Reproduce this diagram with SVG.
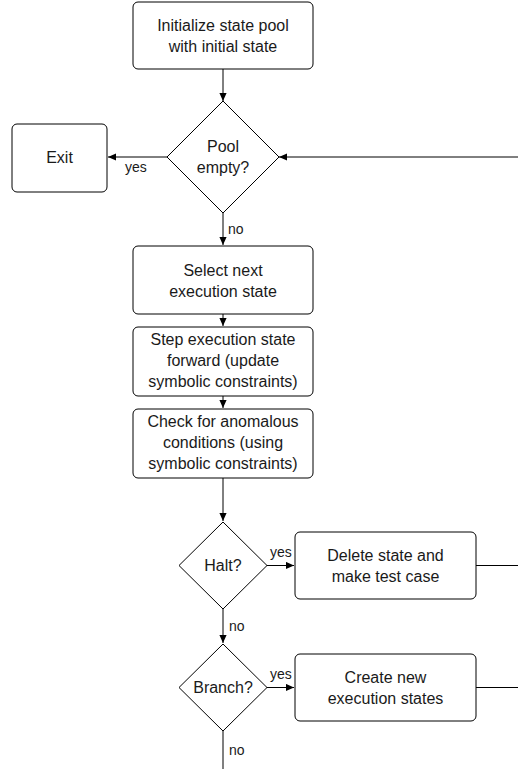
<svg xmlns="http://www.w3.org/2000/svg" width="518" height="769" viewBox="0 0 518 769">
  <style>
    .box { fill: #fff; stroke: #000; stroke-width: 1; }
    .lbl { font-family: "Liberation Sans", Arial, sans-serif; font-size: 16px; fill: #1a1a1a; text-anchor: middle; }
    .edge-lbl { font-family: "Liberation Sans", Arial, sans-serif; font-size: 14px; fill: #1a1a1a; }
    .wire { fill: none; stroke: #000; stroke-width: 1; }
  </style>
  <defs>
    <marker id="arrow" viewBox="0 0 10 10" refX="10" refY="5" markerWidth="8" markerHeight="8" markerUnits="userSpaceOnUse" orient="auto">
      <path d="M0,0.5 L10,5 L0,9.5 Z" fill="#000"/>
    </marker>
  </defs>
  <rect width="518" height="769" fill="#fff"/>

  <g id="connectors">
    <path class="wire" d="M223,69 L223,101" marker-end="url(#arrow)"/>
    <path class="wire" d="M167,157 L108,157" marker-end="url(#arrow)"/>
    <path class="wire" d="M518,157 L279,157" marker-end="url(#arrow)"/>
    <path class="wire" d="M223,213 L223,245" marker-end="url(#arrow)"/>
    <path class="wire" d="M223,314 L223,326" marker-end="url(#arrow)"/>
    <path class="wire" d="M223,396 L223,408" marker-end="url(#arrow)"/>
    <path class="wire" d="M223,478 L223,521" marker-end="url(#arrow)"/>
    <path class="wire" d="M267,565.5 L294,565.5" marker-end="url(#arrow)"/>
    <path class="wire" d="M476,565.5 L518,565.5"/>
    <path class="wire" d="M223,609 L223,643" marker-end="url(#arrow)"/>
    <path class="wire" d="M267,687.5 L294,687.5" marker-end="url(#arrow)"/>
    <path class="wire" d="M476,687.5 L518,687.5"/>
    <path class="wire" d="M223,731 L223,769"/>
    <text class="edge-lbl" x="125" y="172">yes</text>
    <text class="edge-lbl" x="228" y="234">no</text>
    <text class="edge-lbl" x="270" y="557">yes</text>
    <text class="edge-lbl" x="229" y="631">no</text>
    <text class="edge-lbl" x="270" y="679">yes</text>
    <text class="edge-lbl" x="229" y="755">no</text>
  </g>

  <g id="init">
    <rect class="box" x="133" y="2" width="180" height="67" rx="5"/>
    <text class="lbl" x="223" y="31">Initialize state pool</text>
    <text class="lbl" x="223" y="52">with initial state</text>
  </g>

  <g id="pool-empty">
    <polygon class="box" points="223,101 279,157 223,213 167,157"/>
    <text class="lbl" x="223" y="152">Pool</text>
    <text class="lbl" x="223" y="173">empty?</text>
  </g>

  <g id="exit">
    <rect class="box" x="12" y="124" width="95" height="68" rx="5"/>
    <text class="lbl" x="59.5" y="163">Exit</text>
  </g>

  <g id="select">
    <rect class="box" x="133" y="246" width="180" height="68" rx="5"/>
    <text class="lbl" x="223" y="276">Select next</text>
    <text class="lbl" x="223" y="297">execution state</text>
  </g>

  <g id="step">
    <rect class="box" x="133" y="327" width="180" height="69" rx="5"/>
    <text class="lbl" x="223" y="345">Step execution state</text>
    <text class="lbl" x="223" y="366">forward (update</text>
    <text class="lbl" x="223" y="387">symbolic constraints)</text>
  </g>

  <g id="check">
    <rect class="box" x="133" y="409" width="180" height="69" rx="5"/>
    <text class="lbl" x="223" y="427">Check for anomalous</text>
    <text class="lbl" x="223" y="448">conditions (using</text>
    <text class="lbl" x="223" y="469">symbolic constraints)</text>
  </g>

  <g id="halt">
    <polygon class="box" points="223,522 267,565.5 223,609 179,565.5"/>
    <text class="lbl" x="223" y="571">Halt?</text>
  </g>

  <g id="delete">
    <rect class="box" x="295" y="532" width="181" height="67" rx="5"/>
    <text class="lbl" x="385.5" y="561">Delete state and</text>
    <text class="lbl" x="385.5" y="582">make test case</text>
  </g>

  <g id="branch">
    <polygon class="box" points="223,644 267,687.5 223,731 179,687.5"/>
    <text class="lbl" x="223" y="693">Branch?</text>
  </g>

  <g id="create">
    <rect class="box" x="295" y="654" width="181" height="67" rx="5"/>
    <text class="lbl" x="385.5" y="683">Create new</text>
    <text class="lbl" x="385.5" y="704">execution states</text>
  </g>
</svg>
